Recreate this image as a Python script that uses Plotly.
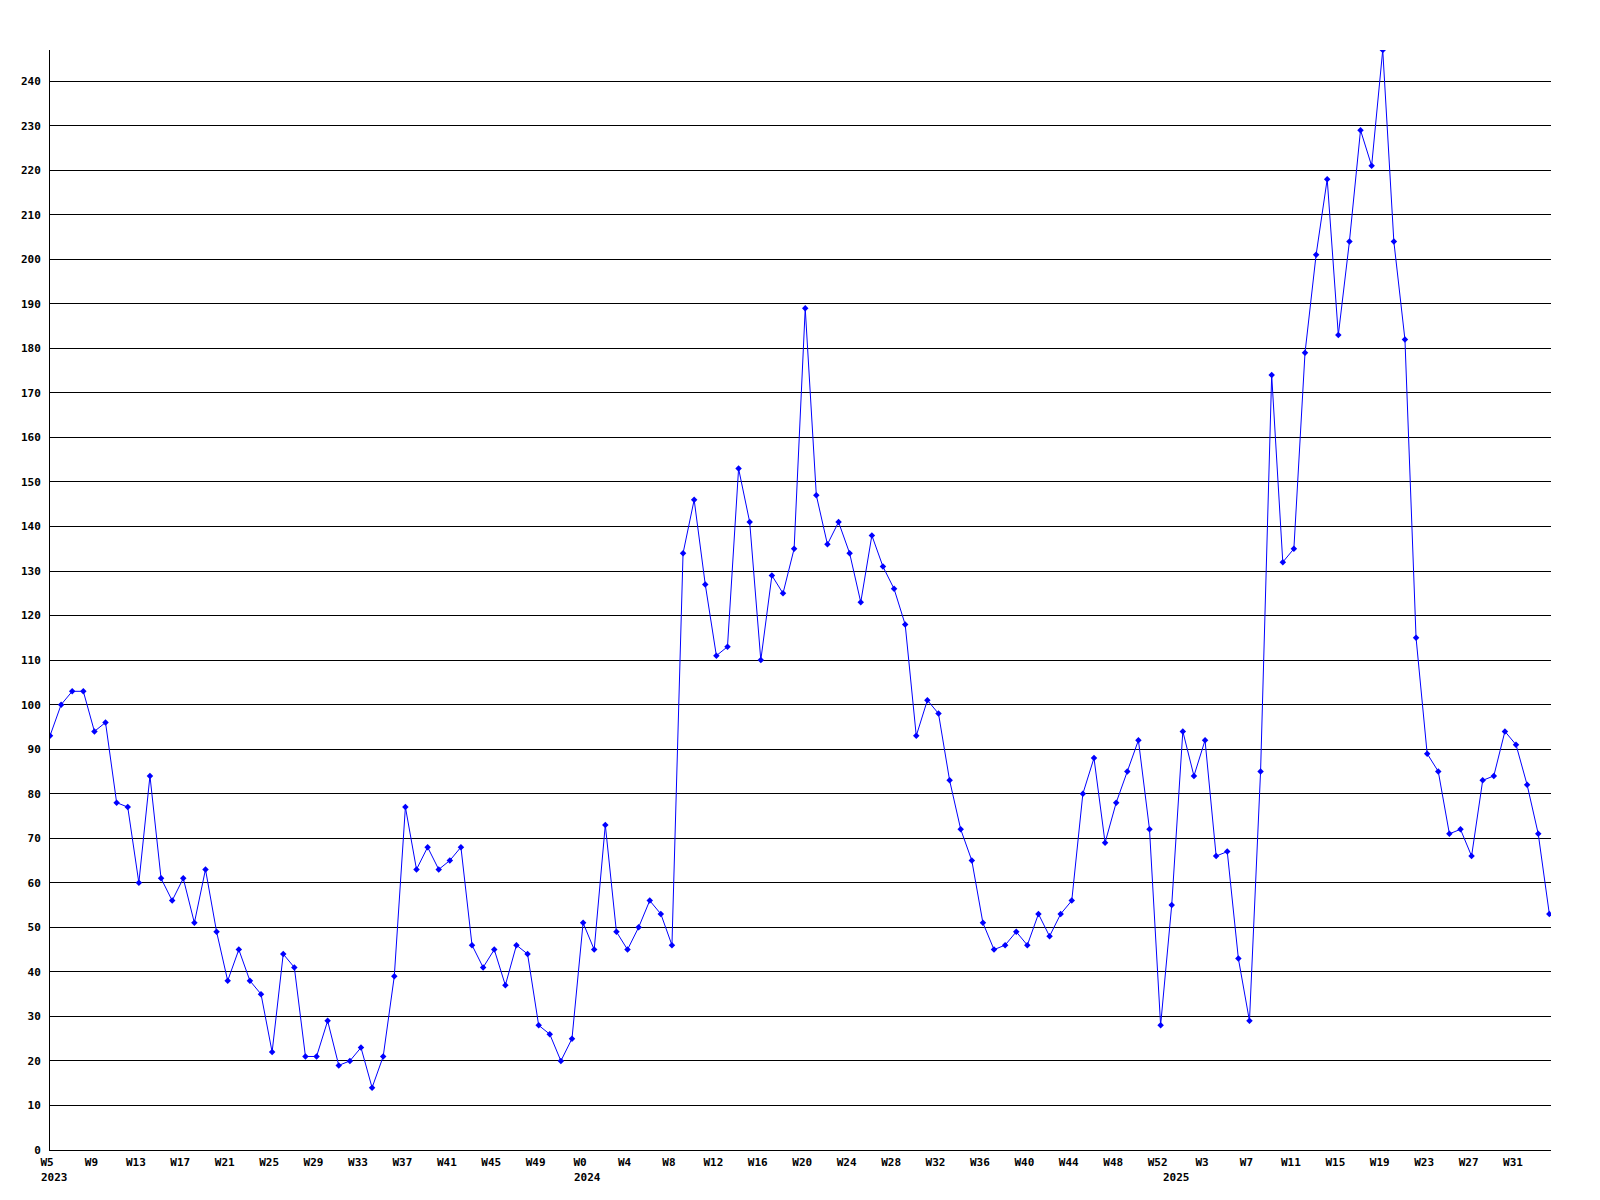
import plotly.graph_objects as go

# weekly values, 2023 W5 .. 2025 W34
values = [
    93, 100, 103, 103, 94, 96, 78, 77, 60, 84, 61, 56, 61, 51, 63, 49, 38, 45, 38, 35,
    22, 44, 41, 21, 21, 29, 19, 20, 23, 14, 21, 39, 77, 63, 68, 63, 65, 68, 46, 41,
    45, 37, 46, 44, 28, 26, 20, 25,
    51, 45, 73, 49, 45, 50, 56, 53, 46, 134, 146, 127, 111, 113, 153, 141, 110, 129,
    125, 135, 189, 147, 136, 141, 134, 123, 138, 131, 126, 118, 93, 101, 98, 83,
    72, 65, 51, 45, 46, 49, 46, 53, 48, 53, 56, 80, 88, 69, 78, 85, 92, 72, 28,
    55, 94, 84, 92, 66, 67, 43, 29, 85, 174, 132, 135, 179, 201, 218, 183, 204, 229,
    221, 247, 204, 182, 115, 89, 85, 71, 72, 66, 83, 84, 94, 91, 82, 71, 53,
]

week_tick_labels = ["W5", "W9", "W13", "W17", "W21", "W25", "W29", "W33", "W37", "W41",
                    "W45", "W49", "W0", "W4", "W8", "W12", "W16", "W20", "W24", "W28",
                    "W32", "W36", "W40", "W44", "W48", "W52", "W3", "W7", "W11", "W15",
                    "W19", "W23", "W27", "W31"]
week_tick_step = 4

year_labels = ["2023", "2024", "2025"]
year_start_index = [0, 48, 101]

y_ticks = list(range(0, 250, 10))

x = list(range(len(values)))
tickvals = [i * week_tick_step for i in range(len(week_tick_labels))]

font_family = "DejaVu Sans Mono"

fig = go.Figure()
fig.add_trace(go.Scatter(
    x=x, y=values, mode="lines+markers",
    line=dict(color="#0000ff", width=1),
    marker=dict(symbol="diamond", size=5, color="#0000ff"),
    hoverinfo="x+y",
))

for lbl, idx in zip(year_labels, year_start_index):
    fig.add_annotation(
        x=idx, y=0, xref="x", yref="paper", text=lbl, showarrow=False,
        xanchor="left", yanchor="middle", xshift=-11, yshift=-27,
        font=dict(family=font_family, size=11, color="black", weight="bold"),
    )

fig.update_layout(
    width=1584, height=1184,
    margin=dict(l=42, r=41, t=42, b=42),
    paper_bgcolor="white", plot_bgcolor="white",
    showlegend=False,
    font=dict(family=font_family, size=11, color="black"),
)
fig.update_xaxes(
    range=[0, len(values) - 1 + 0.15],
    tickmode="array", tickvals=tickvals, ticktext=week_tick_labels,
    showgrid=False, zeroline=False,
    showline=True, linecolor="black", linewidth=1,
    ticks="", ticklabelstandoff=2, ticklabelshift=-3,
    tickfont=dict(family=font_family, size=11, color="black", weight="bold"),
)
fig.update_yaxes(
    range=[0, 247],
    tickmode="array", tickvals=y_ticks, ticktext=[str(v) for v in y_ticks],
    showgrid=True, gridcolor="black", gridwidth=1,
    zeroline=False,
    showline=True, linecolor="black", linewidth=1,
    ticks="", ticklabelstandoff=6,
    tickfont=dict(family=font_family, size=11, color="black", weight="bold"),
)

fig.write_html("out.html")
